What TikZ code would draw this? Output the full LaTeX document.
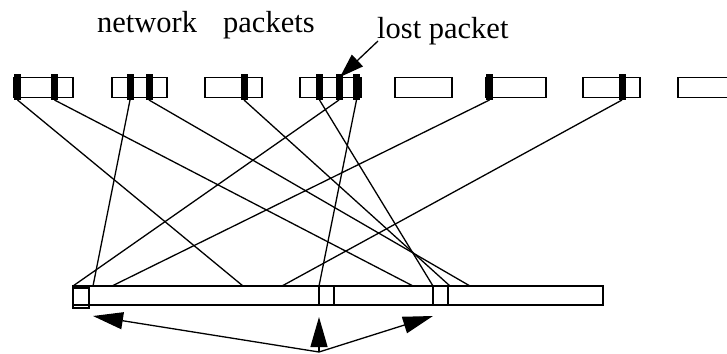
\documentclass[tikz,border=0pt]{standalone}
\usepackage{fontspec}
\setmainfont{Liberation Serif}
\usetikzlibrary{arrows.meta}
\begin{document}
\begin{tikzpicture}[x=1pt,y=-1pt,
  pkt/.style={draw, line width=1.2pt, minimum width=#1, minimum height=19.5pt, inner sep=0pt, outer sep=0pt, anchor=west},
  blk/.style={fill=black, draw=none, minimum width=7pt, minimum height=26pt, inner sep=0pt, outer sep=0pt},
  link/.style={line width=1.3pt},
  lbl/.style={anchor=base west, inner sep=0pt, font=\fontsize{30.5}{32}\selectfont},
  bigarrow/.style={line width=1.3pt, -{Triangle[length=30pt,width=17pt]}},
  lostarrow/.style={line width=1.3pt, -{Triangle[length=24pt,width=16pt]}},
  sq/.style={draw, line width=1.2pt, inner sep=0pt, outer sep=0pt, anchor=north west}
]
\useasboundingbox (0,0) rectangle (727,353);
% labels
\node[lbl] (tnet) at (97,33) {network};
\node[lbl] (tpk) at (223,33) {packets};
\node[lbl] (tlost) at (377,39) {lost packet};
% packets
\node[pkt=59pt] (p1) at (14,87.5) {};
\node[pkt=55pt] (p2) at (112,87.5) {};
\node[pkt=57pt] (p3) at (205,87.5) {};
\node[pkt=61pt] (p4) at (300,87.5) {};
\node[pkt=57pt] (p5) at (395,87.5) {};
\node[pkt=60pt] (p6) at (486,87.5) {};
\node[pkt=57pt] (p7) at (583,87.5) {};
\node[pkt=57pt] (p8) at (678,87.5) {};
% black bars
\node[blk] (b11) at (17.5,87) {};
\node[blk] (b12) at (54.5,87) {};
\node[blk] (b21) at (130,87) {};
\node[blk] (b22) at (149,87) {};
\node[blk] (b31) at (244,87) {};
\node[blk] (b41) at (319.5,87) {};
\node[blk] (b42) at (339,87) {};
\node[blk] (b43) at (356.5,87) {};
\node[blk] (b61) at (489.5,87) {};
\node[blk] (b71) at (622,87) {};
% receiver buffer
\node[draw, line width=1.2pt, minimum width=530pt, minimum height=19pt, inner sep=0pt, outer sep=0pt, anchor=north west] (buf) at (73,286) {};
\node[sq, minimum width=16pt, minimum height=20pt, line width=1.5pt] (s1) at (73,288) {};
\node[sq, minimum width=15pt, minimum height=19pt] (s2) at (319,286) {};
\node[sq, minimum width=15pt, minimum height=19pt] (s3) at (433,286) {};
% arrival points
\coordinate (e73) at (73,286);
\coordinate (e93) at (93,286);
\coordinate (e112) at (112,286);
\coordinate (e243) at (243,286);
\coordinate (e282) at (282,286);
\coordinate (e319) at (319,286);
\coordinate (e413) at (413,286);
\coordinate (e433) at (433,286);
\coordinate (e450) at (450,286);
\coordinate (e470) at (470,286);
% links
\draw[link] (b11.south) -- (e243);
\draw[link] (b12.south) -- (e413);
\draw[link] (b21.south) -- (e93);
\draw[link] (b22.south) -- (e470);
\draw[link] (b31.south) -- (e450);
\draw[link] (b41.south) -- (e433);
\draw[link] (b42.south) -- (e73);
\draw[link] (b43.south) -- (e319);
\draw[link] (b61.south) -- (e112);
\draw[link] (b71.south) -- (e282);
% lost packet arrow
\coordinate (lstart) at (378,41);
\coordinate (ltip) at (340,77);
\draw[lostarrow] (lstart) -- (ltip);
% bottom arrows
\coordinate (apex) at (319,352);
\coordinate (t1) at (93,316);
\coordinate (t2) at (319,317);
\coordinate (t3) at (433,316);
\draw[bigarrow] (apex) -- (t1);
\draw[bigarrow] (apex) -- (t2);
\draw[bigarrow] (apex) -- (t3);
\end{tikzpicture}
\end{document}
